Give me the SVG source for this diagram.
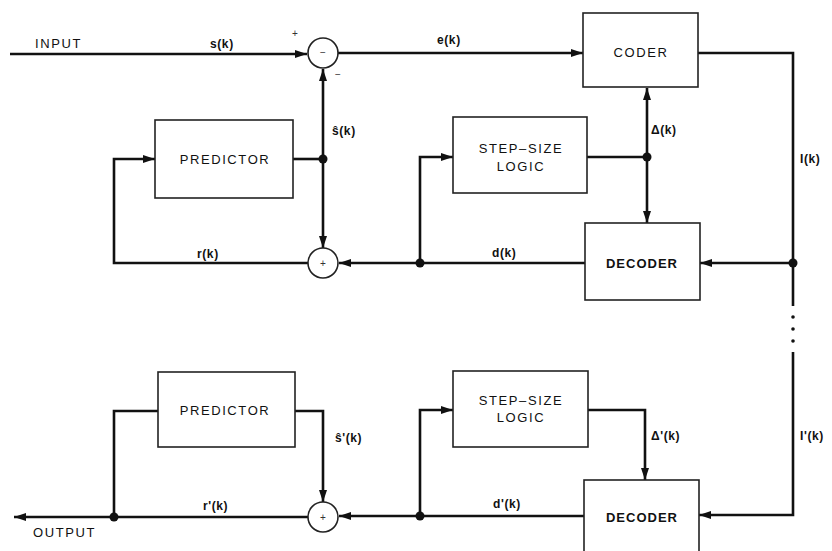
<svg xmlns="http://www.w3.org/2000/svg" width="832" height="551" viewBox="0 0 832 551">
<style>
.bg{fill:#fff}
.box{fill:#fff;stroke:#222;stroke-width:1.6}
.sum{fill:#fff;stroke:#222;stroke-width:1.6}
.ln{fill:none;stroke:#111;stroke-width:2.6}
.dot{fill:#111}
.t{font-family:"Liberation Sans",Arial,sans-serif;font-size:13px;fill:#111;letter-spacing:1.6px}
.tb{font-family:"Liberation Sans",Arial,sans-serif;font-size:13px;font-weight:bold;fill:#111;letter-spacing:1px}
.lb{font-family:"Liberation Sans",Arial,sans-serif;font-size:12px;font-weight:bold;fill:#111;letter-spacing:0.6px}
.sg{font-family:"Liberation Sans",Arial,sans-serif;font-size:10px;fill:#333}
</style>
<defs>
<marker id="ah" viewBox="0 0 12 8" refX="12" refY="4" markerWidth="12" markerHeight="8" markerUnits="userSpaceOnUse" orient="auto">
<path d="M0,0 L12,4 L0,8 Z" fill="#111"/>
</marker>
</defs>
<rect class="bg" x="0" y="0" width="832" height="551"/>

<g id="connectors">
<path class="ln" d="M10,54 H307" marker-end="url(#ah)"/>
<path class="ln" d="M338,53 H583" marker-end="url(#ah)"/>
<path class="ln" d="M698,53 H793 V306"/>
<path class="ln" d="M793,352 V515 H699" marker-end="url(#ah)"/>
<path class="ln" d="M793,263 H700" marker-end="url(#ah)"/>
<path class="ln" d="M585,263 H339" marker-end="url(#ah)"/>
<path class="ln" d="M420,263 V157 H453" marker-end="url(#ah)"/>
<path class="ln" d="M587,157 H647"/>
<path class="ln" d="M647,157 V88" marker-end="url(#ah)"/>
<path class="ln" d="M647,157 V223" marker-end="url(#ah)"/>
<path class="ln" d="M293,159 H323"/>
<path class="ln" d="M323,159 V69" marker-end="url(#ah)"/>
<path class="ln" d="M323,159 V248" marker-end="url(#ah)"/>
<path class="ln" d="M308,263 H114 V159 H155" marker-end="url(#ah)"/>
<path class="ln" d="M584,516 H339" marker-end="url(#ah)"/>
<path class="ln" d="M420,516 V410 H453" marker-end="url(#ah)"/>
<path class="ln" d="M588,410 H645 V480" marker-end="url(#ah)"/>
<path class="ln" d="M295,411 H323 V502" marker-end="url(#ah)"/>
<path class="ln" d="M308,517 H14" marker-end="url(#ah)"/>
<path class="ln" d="M114,517 V411 H158"/>
<circle class="dot" cx="793" cy="263" r="4.5"/>
<circle class="dot" cx="420" cy="263" r="4.5"/>
<circle class="dot" cx="647" cy="157" r="4.5"/>
<circle class="dot" cx="323" cy="159" r="4.5"/>
<circle class="dot" cx="420" cy="516" r="4.5"/>
<circle class="dot" cx="114" cy="517" r="4.5"/>
<circle class="dot" cx="793" cy="317" r="1.8"/>
<circle class="dot" cx="793" cy="329" r="1.8"/>
<circle class="dot" cx="793" cy="341" r="1.8"/>
<text class="t" x="35" y="48">INPUT</text>
<text class="lb" x="210" y="48">s(k)</text>
<text class="lb" x="437" y="44">e(k)</text>
<text class="lb" x="332" y="135">ŝ(k)</text>
<text class="lb" x="651" y="134">Δ(k)</text>
<text class="lb" x="800" y="163">I(k)</text>
<text class="lb" x="197" y="258">r(k)</text>
<text class="lb" x="492" y="257">d(k)</text>
<text class="lb" x="335" y="442">ŝ'(k)</text>
<text class="lb" x="651" y="440">Δ'(k)</text>
<text class="lb" x="800" y="440">I'(k)</text>
<text class="lb" x="203" y="510">r'(k)</text>
<text class="lb" x="493" y="508">d'(k)</text>
<text class="t" x="33" y="537">OUTPUT</text>
</g>

<g id="sub">
<circle class="sum" cx="323" cy="53" r="15"/>
<text class="sg" x="323" y="56" text-anchor="middle">−</text>
<text class="sg" x="295" y="37" text-anchor="middle">+</text>
<text class="sg" x="338" y="78" text-anchor="middle">−</text>
</g>
<g id="coder">
<rect class="box" x="583" y="13" width="115" height="74"/>
<text class="t" x="641" y="57" text-anchor="middle">CODER</text>
</g>
<g id="predictor1">
<rect class="box" x="155" y="120" width="138" height="78"/>
<text class="t" x="225" y="164" text-anchor="middle">PREDICTOR</text>
</g>
<g id="stepsize1">
<rect class="box" x="453" y="117" width="134" height="76"/>
<text class="t" x="521" y="153" text-anchor="middle">STEP–SIZE</text>
<text class="t" x="521" y="171" text-anchor="middle">LOGIC</text>
</g>
<g id="sum1">
<circle class="sum" cx="323" cy="263" r="15"/>
<text class="sg" x="323" y="267" text-anchor="middle">+</text>
</g>
<g id="decoder1">
<rect class="box" x="585" y="223" width="115" height="77"/>
<text class="tb" x="642" y="268" text-anchor="middle">DECODER</text>
</g>
<g id="predictor2">
<rect class="box" x="158" y="372" width="137" height="75"/>
<text class="t" x="225" y="415" text-anchor="middle">PREDICTOR</text>
</g>
<g id="stepsize2">
<rect class="box" x="453" y="371" width="135" height="76"/>
<text class="t" x="521" y="405" text-anchor="middle">STEP–SIZE</text>
<text class="t" x="521" y="422" text-anchor="middle">LOGIC</text>
</g>
<g id="sum2">
<circle class="sum" cx="323" cy="517" r="15"/>
<text class="sg" x="323" y="521" text-anchor="middle">+</text>
</g>
<g id="decoder2">
<rect class="box" x="584" y="480" width="115" height="80"/>
<text class="tb" x="642" y="522" text-anchor="middle">DECODER</text>
</g>
</svg>
